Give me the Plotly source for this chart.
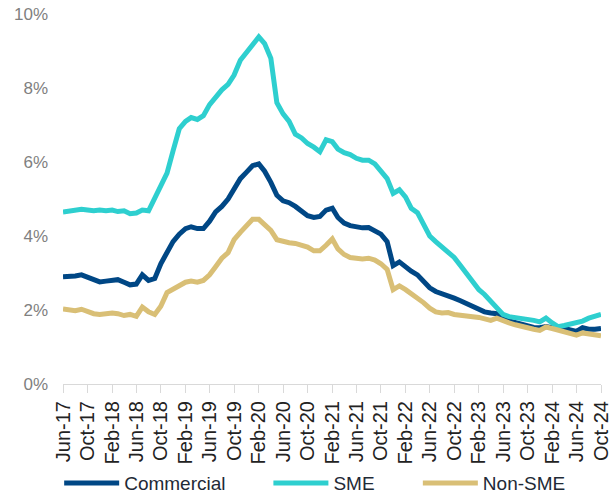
import plotly.graph_objects as go
import pandas as pd

months = pd.date_range("2017-06-01", "2024-10-01", freq="MS")
tick_dates = months[::4]
tick_labels = [d.strftime("%b-%y") for d in tick_dates]

commercial = [2.90, 2.90, 2.92, 2.95, 2.88, 2.82, 2.76, 2.78, 2.80, 2.82,
              2.75, 2.68, 2.70, 2.95, 2.80, 2.85, 3.25, 3.55, 3.85, 4.05,
              4.20, 4.25, 4.20, 4.20, 4.40, 4.65, 4.80, 5.00, 5.30, 5.55,
              5.72, 5.90, 5.95, 5.75, 5.45, 5.10, 4.95, 4.90, 4.80, 4.68,
              4.55, 4.50, 4.53, 4.70, 4.75, 4.50, 4.35, 4.28, 4.25, 4.22,
              4.23, 4.15, 4.05, 3.85, 3.20, 3.30, 3.15, 3.05, 2.95, 2.80,
              2.60, 2.50, 2.45, 2.38, 2.32, 2.25, 2.18, 2.10, 2.00, 1.95,
              1.92, 1.90, 1.75, 1.70, 1.65, 1.60, 1.55, 1.53, 1.52, 1.55,
              1.52, 1.55, 1.50, 1.45, 1.42, 1.52, 1.48, 1.48, 1.50]

sme = [4.65, 4.68, 4.70, 4.72, 4.70, 4.68, 4.70, 4.68, 4.70, 4.66,
       4.68, 4.60, 4.62, 4.70, 4.68, 5.00, 5.35, 5.70, 6.30, 6.90,
       7.10, 7.20, 7.15, 7.25, 7.55, 7.75, 7.95, 8.10, 8.35, 8.75,
       8.95, 9.20, 9.38, 9.20, 8.80, 7.60, 7.30, 7.10, 6.75, 6.65,
       6.50, 6.40, 6.28, 6.60, 6.55, 6.35, 6.25, 6.20, 6.10, 6.05,
       6.05, 5.95, 5.75, 5.55, 5.15, 5.25, 5.05, 4.75, 4.63, 4.35,
       4.00, 3.85, 3.70, 3.55, 3.42, 3.20, 3.00, 2.75, 2.55, 2.42,
       2.25, 2.08, 1.88, 1.82, 1.80, 1.78, 1.75, 1.72, 1.68, 1.78,
       1.65, 1.55, 1.58, 1.62, 1.63, 1.70, 1.78, 1.82, 1.88]

non_sme = [2.03, 2.00, 1.98, 2.02, 1.95, 1.90, 1.88, 1.90, 1.92, 1.90,
           1.85, 1.88, 1.83, 2.08, 1.95, 1.88, 2.10, 2.47, 2.55, 2.65,
           2.75, 2.78, 2.75, 2.80, 2.95, 3.17, 3.40, 3.55, 3.90, 4.10,
           4.25, 4.45, 4.45, 4.30, 4.15, 3.90, 3.85, 3.82, 3.80, 3.75,
           3.70, 3.60, 3.60, 3.75, 3.92, 3.65, 3.50, 3.42, 3.40, 3.38,
           3.40, 3.35, 3.25, 3.10, 2.55, 2.65, 2.55, 2.45, 2.33, 2.20,
           2.05, 1.95, 1.92, 1.93, 1.88, 1.85, 1.82, 1.82, 1.80, 1.76,
           1.72, 1.78, 1.70, 1.65, 1.60, 1.55, 1.52, 1.48, 1.45, 1.54,
           1.50, 1.45, 1.42, 1.38, 1.32, 1.38, 1.35, 1.30, 1.30]

y_ticks = [0, 2, 4, 6, 8, 10]
y_tick_labels = ["0%", "2%", "4%", "6%", "8%", "10%"]

series = [
    ("Commercial", commercial, "#004785", "legend", 0.097),
    ("SME", sme, "#2ecfcf", "legend2", 0.440),
    ("Non-SME", non_sme, "#d9bf76", "legend3", 0.685),
]

fig = go.Figure()
for name, vals, color, lg, _ in series:
    fig.add_trace(go.Scatter(
        x=months, y=vals, mode="lines", name=name,
        line=dict(color=color, width=5), legend=lg, showlegend=True,
    ))

font_family = "Liberation Sans, Arial, sans-serif"
legend_common = dict(
    visible=True,
    orientation="h", xref="container", yref="container",
    yanchor="middle", y=0.022, xanchor="left",
    font=dict(family=font_family, size=19, color="#1f2a36"),
    bgcolor="rgba(0,0,0,0)", itemwidth=55,
)

legend_layout = {}
for name, vals, color, lg, lx in series:
    legend_layout[lg] = dict(x=lx, **legend_common)

fig.update_layout(
    width=610, height=494, showlegend=True,
    margin=dict(l=63, r=9, t=14, b=110, autoexpand=False),
    paper_bgcolor="white", plot_bgcolor="white",
    font=dict(family=font_family),
    **legend_layout,
    xaxis=dict(
        range=[months[0], months[-1]],
        tickvals=tick_dates, ticktext=tick_labels,
        tickangle=-90, showgrid=False, automargin=False,
        ticklabeloverflow="allow",
        showline=True, linecolor="#d9d9d9", linewidth=1,
        ticks="outside", ticklen=8, tickcolor="#d9d9d9",
        tickfont=dict(family=font_family, size=20, color="#222222"),
        zeroline=False,
    ),
    yaxis=dict(
        range=[0, 10], tickvals=y_ticks, ticktext=y_tick_labels,
        showgrid=False, zeroline=False, showline=False, ticks="",
        automargin=False,
        tickfont=dict(family=font_family, size=17, color="#808080"),
        ticklabelstandoff=14,
    ),
)

fig.write_html(
    "out.html",
    config={"displayModeBar": False},
    post_script="document.body.style.margin='0';document.body.style.overflow='hidden';",
)
